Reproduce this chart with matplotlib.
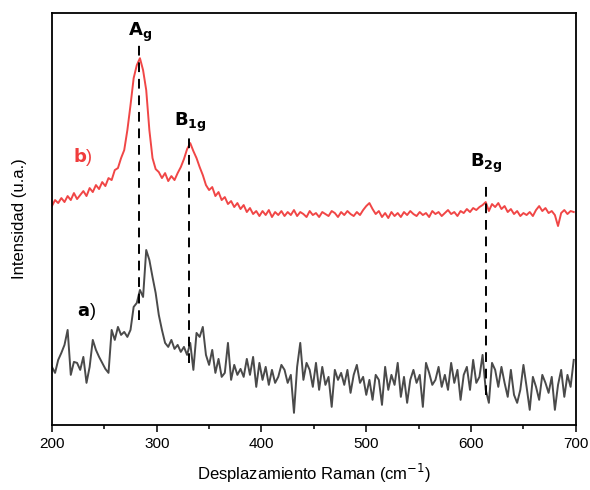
import numpy as np
import matplotlib
matplotlib.use("Agg")
import matplotlib.pyplot as plt

plt.rcParams['font.family'] = ['Liberation Sans', 'DejaVu Sans']

# Raman shift grid (cm-1), one point every 3 cm-1
shift = np.arange(200, 699, 3)

# b) spectrum (red), intensity in a.u., rows of 10 points (30 cm-1)
spec_b = [219, 225, 222, 227, 223, 229, 225, 232, 226, 230,
          234, 229, 237, 233, 240, 236, 243, 239, 247, 245,
          255, 257, 267, 275, 295, 320, 347, 360, 367, 355,
          335, 295, 267, 256, 253, 247, 252, 244, 249, 245,
          252, 258, 266, 276, 282, 274, 267, 258, 250, 240,
          235, 238, 229, 233, 225, 228, 221, 224, 218, 222,
          216, 220, 213, 217, 211, 214, 209, 214, 210, 215,
          208, 213, 210, 214, 209, 213, 210, 215, 209, 213,
          211, 208, 214, 210, 212, 208, 213, 211, 209, 214,
          212, 208, 213, 210, 214, 211, 209, 213, 210, 215,
          219, 222, 216, 211, 214, 208, 212, 207, 213, 209,
          212, 208, 213, 210, 214, 211, 209, 213, 210, 212,
          208, 214, 211, 213, 209, 212, 215, 211, 213, 209,
          214, 212, 216, 213, 217, 215, 218, 220, 223, 214,
          221, 218, 222, 216, 219, 213, 216, 211, 214, 209,
          212, 210, 213, 209, 215, 219, 214, 217, 212, 214,
          210, 199, 212, 215, 211, 214, 213]

# a) spectrum (gray)
spec_a = [58, 52, 65, 72, 80, 95, 50, 63, 62, 55,
          68, 42, 58, 85, 75, 68, 62, 56, 52, 95,
          85, 98, 90, 93, 88, 95, 118, 122, 135, 128,
          175, 165, 148, 132, 110, 95, 82, 78, 85, 76,
          80, 73, 78, 70, 82, 55, 92, 88, 98, 70,
          60, 75, 52, 66, 48, 52, 82, 45, 60, 50,
          56, 48, 66, 50, 68, 38, 62, 45, 58, 40,
          55, 42, 48, 60, 55, 42, 50, 12, 58, 82,
          45, 62, 55, 38, 62, 35, 58, 40, 48, 18,
          55, 45, 52, 40, 55, 32, 50, 60, 42, 48,
          30, 45, 25, 50, 45, 20, 58, 35, 50, 40,
          62, 28, 48, 22, 45, 55, 42, 50, 18, 62,
          52, 40, 45, 58, 38, 50, 35, 62, 42, 55,
          25, 50, 58, 35, 65, 42, 48, 70, 35, 22,
          62, 55, 38, 58, 42, 28, 55, 30, 22, 35,
          60, 38, 15, 48, 38, 25, 50, 42, 32, 48,
          15, 40, 55, 28, 50, 38, 65]

# peak assignments: position, label, dashed line bottom/top, label height
peak_pos = [283, 330.7, 614]
peak_lab = [r"$\mathbf{A_g}$", r"$\mathbf{B_{1g}}$", r"$\mathbf{B_{2g}}$"]
line_lo = [105, 62, 30]
line_hi = [380, 290, 243]
lab_y = [393, 303, 262]

fig = plt.figure(figsize=(5.9, 4.9), dpi=100)
ax = fig.add_axes([0.088, 0.133, 0.888, 0.84])

ax.plot(shift, spec_b, color="#f03c3c", lw=1.4, alpha=0.95)
ax.plot(shift, spec_a, color="#4a4a4a", lw=1.4)

for p, lab, lo, hi, ly in zip(peak_pos, peak_lab, line_lo, line_hi, lab_y):
    ax.plot([p, p], [lo, hi], color="black", lw=1.4, ls=(0, (5, 3.5)))
    ax.text(p + 1, ly, lab, ha="center", va="center", fontsize=13)

ax.text(230, 268, r"$\mathbf{b}$)", color="#f03c3c", fontsize=13, ha="center", va="center")
ax.text(233, 113, r"$\mathbf{a}$)", color="black", fontsize=13, ha="center", va="center")

ax.set_xlim(200, 700)
ax.set_ylim(0, 412)
ax.set_yticks([])
ax.set_xticks([200, 300, 400, 500, 600, 700])
ax.set_xticks([250, 350, 450, 550, 650], minor=True)
ax.tick_params(axis="x", which="major", length=5, width=1.1, labelsize=11, direction="out")
ax.tick_params(axis="x", which="minor", length=3, width=1.1, direction="out")
for s in ax.spines.values():
    s.set_linewidth(1.3)

ax.set_xlabel("Desplazamiento Raman (cm$^{-1}$)", fontsize=12, labelpad=8)
ax.set_ylabel("Intensidad (u.a.)", fontsize=12, labelpad=18)

fig.savefig("out.png", dpi=100)
